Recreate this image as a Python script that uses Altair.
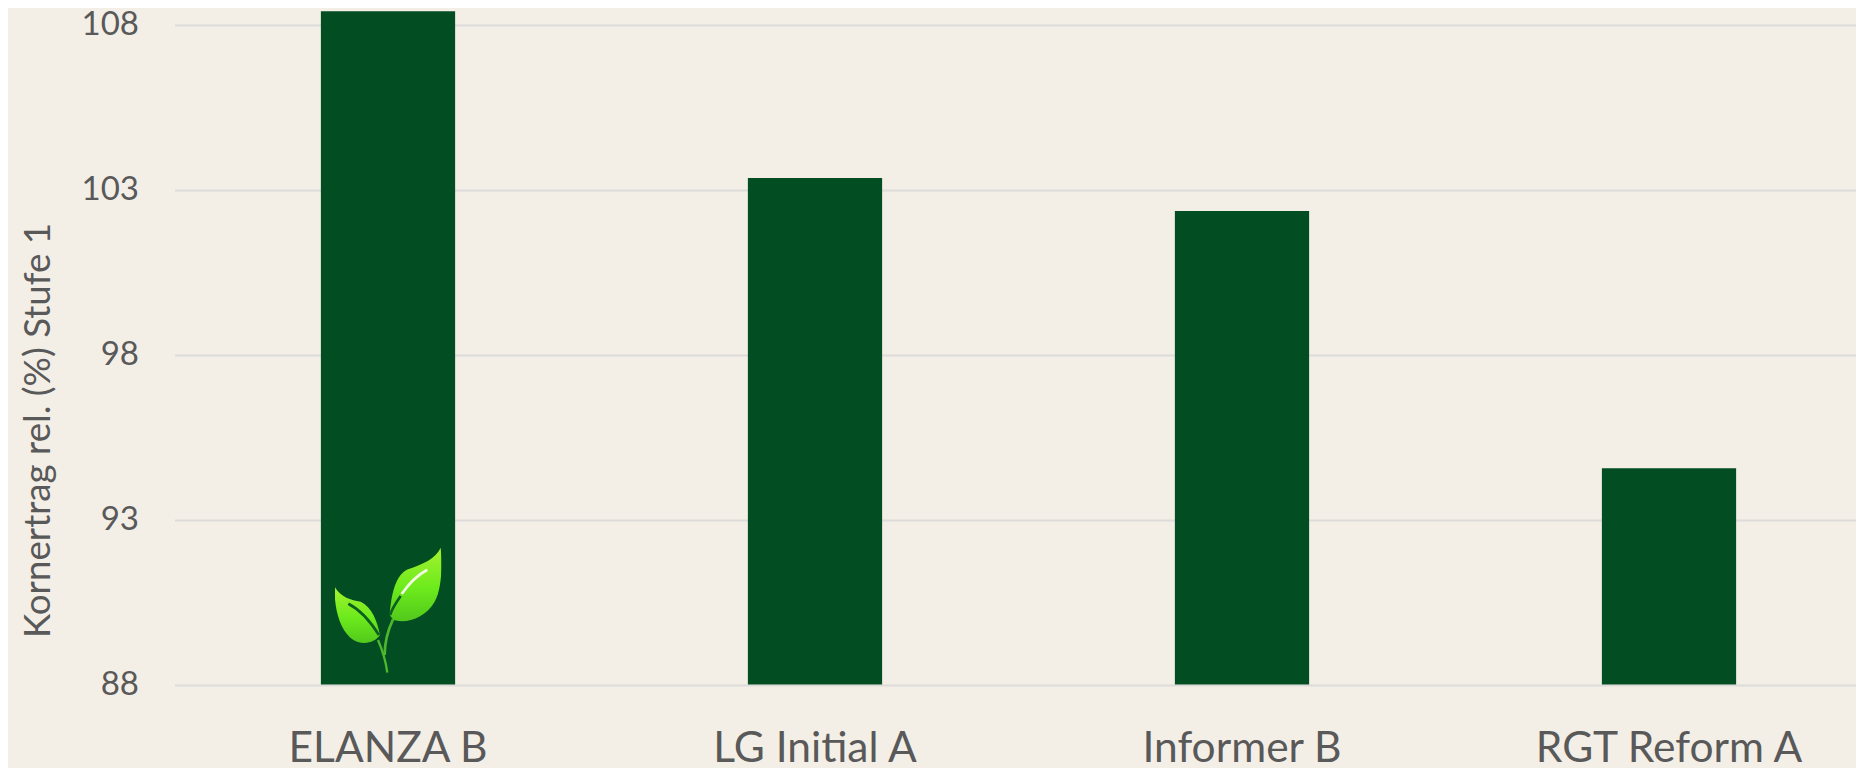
import urllib.parse
import altair as alt
import pandas as pd

categories = ["ELANZA B", "LG Initial A", "Informer B", "RGT Reform A"]
values = [108.4, 103.35, 102.35, 94.55]
y_ticks = [88, 93, 98, 103, 108]
y_title = "Kornertrag rel. (%) Stufe 1"

BG = "#F3EFE7"
BAR = "#024D22"
GRID = "#DEDCDB"
TEXT = "#595959"
FONT = "Lato"

leaf_svg = """<svg xmlns='http://www.w3.org/2000/svg' viewBox='222 83 320 375' width='107' height='125'>
<defs><linearGradient id='g' x1='0' y1='0' x2='0' y2='1'>
<stop offset='0' stop-color='#A4F02E'/><stop offset='0.55' stop-color='#6CEB1C'/><stop offset='1' stop-color='#52C81C'/></linearGradient></defs>
<path fill='url(#g)' d='M540 83C525 115 490 132 440 148C405 165 392 220 387 285L398 300C440 312 495 292 522 245C542 210 546 140 540 83Z'/>
<path fill='url(#g)' d='M222 200C240 232 270 240 300 245C335 262 350 305 358 345C340 372 298 378 268 352C235 322 220 260 222 200Z'/>
<path fill='none' stroke='#0E5E22' stroke-width='8' d='M263 251C300 270 330 305 355 345'/>
<path fill='none' stroke='#0E5E22' stroke-width='8' d='M388 285C395 265 408 245 420 228'/>
<path fill='none' stroke='#F2FBE0' stroke-width='8' d='M423 222C445 190 470 165 500 149'/>
<path fill='none' stroke='#4DB82C' stroke-width='7' d='M352 360C365 390 375 420 380 458'/>
<path fill='none' stroke='#4DB82C' stroke-width='8' d='M372 405C372 365 382 330 397 298'/>
</svg>"""
leaf_url = "data:image/svg+xml," + urllib.parse.quote(leaf_svg)

df = pd.DataFrame({"name": categories, "value": values})
leaf_df = pd.DataFrame({"name": [categories[0]], "value": [90.25], "url": [leaf_url]})

x = alt.X(
    "name:N",
    sort=categories,
    scale=alt.Scale(range=[0, 1708], paddingInner=0.6856, paddingOuter=0.3428),
    axis=alt.Axis(
        title=None, labelAngle=0, ticks=False, domain=False, grid=False,
        labelFont=FONT, labelFontSize=42.5, labelColor=TEXT, labelPadding=43,
        labelLimit=600, labelOverlap=False, labelBound=False, labelFlush=False,
    ),
)
y = alt.Y(
    "value:Q",
    scale=alt.Scale(domain=[88, 108.5], nice=False, zero=False, clamp=True),
    axis=alt.Axis(
        title=y_title, values=y_ticks, format="d", ticks=False, domain=False,
        grid=True, gridColor=GRID, gridWidth=2,
        labelFont=FONT, labelFontSize=33, labelColor=TEXT, labelPadding=36,
        titleFont=FONT, titleFontSize=36.7, titleFontWeight="normal", titleColor=TEXT,
        titleX=-136, titleY=422, titleAngle=270, titleAlign="center", titleBaseline="middle",
    ),
)

bars = alt.Chart(df).mark_bar(color=BAR).encode(x=x, y=y)
leaf = alt.Chart(leaf_df).mark_image(width=107, height=125).encode(
    x=alt.X("name:N", sort=categories),
    y=alt.Y("value:Q"),
    url="url:N",
)

chart = (
    alt.layer(bars, leaf)
    .properties(
        width=1681.5,
        height=676.5,
        background=BG,
        autosize=alt.AutoSizeParams(type="none"),
        padding={"left": 166.5, "top": 0, "right": 0, "bottom": 83.5},
    )
    .configure_view(stroke=None)
)

chart.save("out.html", embed_options={"renderer": "svg", "actions": False})
